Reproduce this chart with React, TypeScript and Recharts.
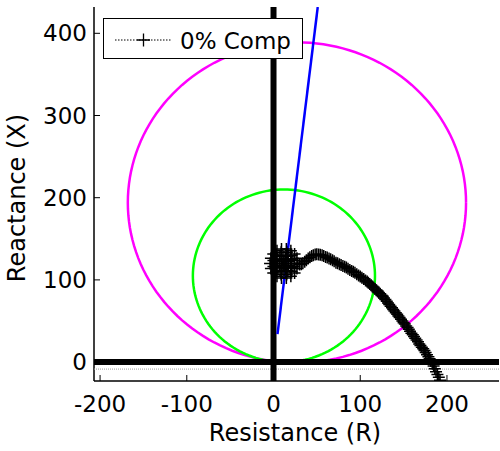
import React from 'react';
import { ScatterChart, Scatter, XAxis, YAxis, Legend } from 'recharts';

const xTicks = [-200, -100, 0, 100, 200];
const yTicks = [0, 100, 200, 300, 400];
const xDomain: [number, number] = [-207, 260];
const yDomain: [number, number] = [-23, 432];

const xLabel = 'Resistance (R)';
const yLabel = 'Reactance (X)';
const legendLabel = '0% Comp';

// circles: [centerR, centerX, radius]
const magentaCircle = [27, 194, 195];
const greenCircle = [12, 105, 105];

// blue characteristic line
const bluePoints: [number, number][] = [[4.6, 34], [51, 432]];

// impedance trajectory (tail, from load point up to the knee)
const tailPoints: [number, number][] = [
  [192, -22], [190.6, -18.3], [189, -15], [187.4, -11.6], [186, -8], [184.6, -4.8], [183, -2],
  [181.4, 1.2], [180, 4], [178.6, 6.6], [177, 9], [175.4, 11.7], [174, 14], [172.6, 16.1],
  [171, 18], [169.4, 20.2], [168, 22], [166.6, 24.6], [165, 27], [163.4, 29.1], [162, 31],
  [160.6, 33.2], [159, 35], [157.4, 37.6], [156, 40], [154.6, 42.1], [153, 44], [151.4, 46.2],
  [150, 48], [148.6, 50.1], [147, 52], [145.4, 54.2], [144, 56], [142.6, 58.1], [141, 60],
  [139.4, 62.2], [138, 64], [136.6, 66.1], [135, 68], [133.4, 70.2], [132, 72], [130.6, 74.1],
  [129, 76], [127.4, 78.1], [126, 80], [124.6, 81.4], [123, 83], [121.4, 84.6], [120, 86],
  [118.6, 87.4], [117, 89], [115.4, 90.6], [114, 92], [112.6, 93.4], [111, 95], [109.4, 96.6],
  [108, 98], [106.1, 99.4], [104, 101], [101.9, 102.6], [100, 104], [98.1, 105.4], [96, 107],
  [93.9, 108.6], [92, 110], [90.1, 110.9], [88, 112], [85.9, 113.6], [84, 115], [82.1, 115.9],
  [80, 117], [77.9, 118.1], [76, 119], [73.9, 120.1], [72, 121], [69.9, 122.6], [68, 124],
  [65.9, 125.1], [64, 126], [61.9, 127.1], [60, 128], [57.9, 129.1], [56, 130], [53.9, 130.6],
  [52, 131], [49.9, 131.2], [48, 131], [45.9, 130.1], [44, 129], [41.9, 127.4], [40, 126],
  [37.9, 123.9], [36, 122], [33.9, 120.4], [32, 119], [30, 118.6],
];

// fault cluster (spiralling in)
const blobPoints: [number, number][] = [
  [28, 120], [27, 126.2], [24.3, 131.6], [20, 135.6], [14.8, 137.7], [9.2, 137.7], [4, 135.6],
  [-0.3, 131.6], [-3, 126.2], [-4, 120], [-3, 113.8], [-0.3, 108.4], [4, 104.4], [9.2, 102.3],
  [14.8, 102.3], [20, 104.4], [24.3, 108.4], [27, 113.8],
  [24.1, 123.6], [20.8, 129.9], [15.2, 133.5], [8.8, 133.5], [3.2, 129.9], [-0.1, 123.6],
  [-0.1, 116.4], [3.2, 110.1], [8.8, 106.5], [15.2, 106.5], [20.8, 110.1], [24.1, 116.4],
  [21, 120], [19.8, 125], [16.5, 128.7], [12, 130], [7.5, 128.7], [4.2, 125], [3, 120],
  [4.2, 115], [7.5, 111.3], [12, 110], [16.5, 111.3], [19.8, 115],
  [17.1, 122.3], [14.1, 125.5], [9.9, 125.5], [6.9, 122.3], [6.9, 117.7], [9.9, 114.5],
  [14.1, 114.5], [17.1, 117.7],
  [14.5, 120], [12, 123], [9.5, 120], [12, 117], [12, 120],
];

const faint = -8.5;

const FONT = 'DejaVu Sans';

const toObj = (pts: [number, number][]) => pts.map(([x, y]) => ({ x, y }));

const circlePts = (c: number[]) => {
  const n = 160;
  const out: { x: number; y: number }[] = [];
  for (let i = 0; i <= n; i++) {
    const a = (i / n) * 2 * Math.PI;
    out.push({ x: c[0] + c[2] * Math.cos(a), y: c[1] + c[2] * Math.sin(a) });
  }
  return out;
};

const traceData = toObj([...tailPoints, ...blobPoints]);
const hLine = [{ x: xDomain[0], y: 0 }, { x: xDomain[1], y: 0 }];
const vLine = [{ x: 0, y: yDomain[0] }, { x: 0, y: yDomain[1] }];
const faintLine = [{ x: xDomain[0], y: faint }, { x: xDomain[1], y: faint }];

const Plus = (props: any) => {
  const { cx, cy } = props;
  if (cx == null || cy == null) return <g />;
  const s = 6;
  return (
    <path
      d={`M${cx - s},${cy}H${cx + s}M${cx},${cy - s}V${cy + s}`}
      stroke="#000"
      strokeWidth={1.5}
      fill="none"
    />
  );
};

const NoDot = () => <g />;

const LegendBox = () => (
  <svg width={200} height={41} style={{ display: 'block' }}>
    <rect x={0.5} y={0.5} width={199} height={40} fill="#fff" stroke="#000" strokeWidth={1} />
    <line x1={12} y1={22} x2={69} y2={22} stroke="#000" strokeWidth={1} strokeDasharray="1.5 1.5" />
    <path d="M34,22H47M40.5,15.5V28.5" stroke="#000" strokeWidth={1.3} fill="none" />
    <text x={77} y={31} fontFamily={FONT} fontSize={23} fill="#000">{legendLabel}</text>
  </svg>
);

const YLabel = () => (
  <text
    x={25}
    y={198}
    transform="rotate(-90 25 198)"
    textAnchor="middle"
    fontFamily={FONT}
    fontSize={24}
    fill="#000"
  >
    {yLabel}
  </text>
);

const XLabel = () => (
  <text x={295} y={441} textAnchor="middle" fontFamily={FONT} fontSize={24} fill="#000">
    {xLabel}
  </text>
);

const tickStyle = { fill: '#000', fontSize: 23, fontFamily: FONT };
const axisLine = { stroke: '#000', strokeWidth: 1.5 };
const tickLine = { stroke: '#000', strokeWidth: 1 };

export default function App() {
  return (
    <div style={{ position: 'absolute', left: 0, top: 0, width: 500, height: 451, background: '#fff' }}>
      <ScatterChart width={500} height={451} margin={{ top: 7, right: 1, bottom: 10, left: 0 }}>
        <XAxis
          xAxisId="b"
          type="number"
          dataKey="x"
          domain={xDomain}
          ticks={xTicks}
          allowDataOverflow
          height={60}
          tickSize={-6}
          tickMargin={20.5}
          tick={tickStyle}
          axisLine={axisLine}
          tickLine={tickLine}
          label={XLabel}
        />
        <XAxis
          xAxisId="t"
          orientation="top"
          type="number"
          dataKey="x"
          domain={xDomain}
          ticks={xTicks}
          allowDataOverflow
          height={0}
          tickSize={-6}
          tickFormatter={() => ''}
          axisLine={axisLine}
          tickLine={tickLine}
        />
        <YAxis
          yAxisId="l"
          type="number"
          dataKey="y"
          domain={yDomain}
          ticks={yTicks}
          allowDataOverflow
          width={94}
          tickSize={-6}
          tickMargin={13}
          tick={tickStyle}
          axisLine={axisLine}
          tickLine={tickLine}
          label={YLabel}
        />
        <YAxis
          yAxisId="r"
          orientation="right"
          type="number"
          dataKey="y"
          domain={yDomain}
          ticks={yTicks}
          allowDataOverflow
          width={0}
          tickSize={-6}
          tickFormatter={() => ''}
          axisLine={axisLine}
          tickLine={tickLine}
        />
        <Legend
          layout="horizontal"
          verticalAlign="middle"
          align="center"
          content={LegendBox}
          wrapperStyle={{ position: 'absolute', left: 103, top: 18, width: 200, height: 41 }}
        />
        <Scatter xAxisId="t" yAxisId="r" data={[]} shape={NoDot} isAnimationActive={false} legendType="none" />
        <Scatter
          xAxisId="b" yAxisId="l"
          data={faintLine}
          line={{ stroke: '#999', strokeWidth: 1, strokeDasharray: '1 1' }}
          shape={NoDot}
          isAnimationActive={false}
          legendType="none"
        />
        <Scatter
          xAxisId="b" yAxisId="l"
          data={circlePts(magentaCircle)}
          line={{ stroke: '#ff00ff', strokeWidth: 2.5 }}
          shape={NoDot}
          isAnimationActive={false}
          legendType="none"
        />
        <Scatter
          xAxisId="b" yAxisId="l"
          data={circlePts(greenCircle)}
          line={{ stroke: '#00ff00', strokeWidth: 2.5 }}
          shape={NoDot}
          isAnimationActive={false}
          legendType="none"
        />
        <Scatter
          xAxisId="b" yAxisId="l"
          data={hLine}
          line={{ stroke: '#000', strokeWidth: 6 }}
          shape={NoDot}
          isAnimationActive={false}
          legendType="none"
        />
        <Scatter
          xAxisId="b" yAxisId="l"
          data={vLine}
          line={{ stroke: '#000', strokeWidth: 6 }}
          shape={NoDot}
          isAnimationActive={false}
          legendType="none"
        />
        <Scatter
          xAxisId="b" yAxisId="l"
          data={toObj(bluePoints)}
          line={{ stroke: '#0000ff', strokeWidth: 2.5 }}
          shape={NoDot}
          isAnimationActive={false}
          legendType="none"
        />
        <Scatter
          xAxisId="b" yAxisId="l"
          name={legendLabel}
          data={traceData}
          line={{ stroke: '#000', strokeWidth: 1, strokeDasharray: '1.5 1.5' }}
          shape={Plus}
          isAnimationActive={false}
        />
      </ScatterChart>
    </div>
  );
}
